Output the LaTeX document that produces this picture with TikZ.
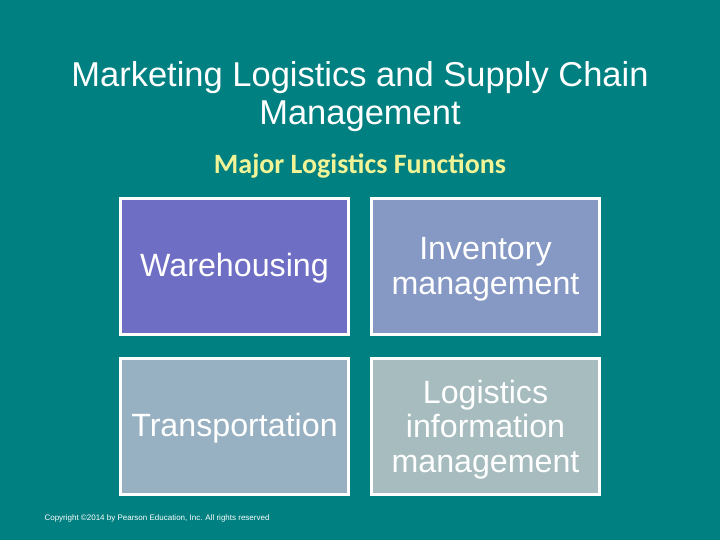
\documentclass[tikz,border=0pt]{standalone}
\usepackage{fontspec}
\setmainfont{Liberation Sans}
\newfontfamily\carlito{Carlito}
\definecolor{bgteal}{RGB}{0,128,128}
\definecolor{boxA}{RGB}{110,110,196}
\definecolor{boxB}{RGB}{133,153,196}
\definecolor{boxC}{RGB}{151,177,194}
\definecolor{boxD}{RGB}{166,188,191}
\definecolor{subyellow}{RGB}{240,244,150}
\begin{document}
\begin{tikzpicture}[x=1pt,y=-1pt,
  funcbox/.style={draw=white,line width=3pt,minimum width=228pt,minimum height=136pt,
    inner sep=0pt},
  functext/.style={text=white,align=center,inner sep=0pt,font=\fontsize{32.2}{34.5}\selectfont},
  titletext/.style={text=white,align=center,font=\fontsize{34.5}{38}\selectfont},
  subtext/.style={text=subyellow,font=\carlito\bfseries\fontsize{28}{32}\selectfont},
  copytext/.style={text=white,anchor=west,font=\fontsize{8}{9}\selectfont}]
\fill[bgteal] (0,0) rectangle (720,540);
\useasboundingbox (0,0) rectangle (720,540);
\node[titletext] (title) at (360,97) {Marketing Logistics and Supply Chain\\Management};
\node[subtext] (sub) at (360,166) {Major Logistics Functions};
\node[funcbox,fill=boxA] (wh) at (234.5,266.5) {};
\node[funcbox,fill=boxB] (inv) at (485.5,266.5) {};
\node[funcbox,fill=boxC] (tr) at (234.5,426.5) {};
\node[funcbox,fill=boxD] (lim) at (485.5,426.5) {};
\node[functext] (whT) at ([yshift=-2pt]wh.center) {Warehousing};
\node[functext] (invT) at ([yshift=-3pt]inv.center) {Inventory\\management};
\node[functext] (trT) at ([yshift=-2pt]tr.center) {Transportation};
\node[functext] (limT) at ([yshift=-3pt]lim.center) {Logistics\\information\\management};
\node[copytext] (copy) at (41,518) {Copyright ©2014 by Pearson Education, Inc. All rights reserved};
\end{tikzpicture}
\end{document}
